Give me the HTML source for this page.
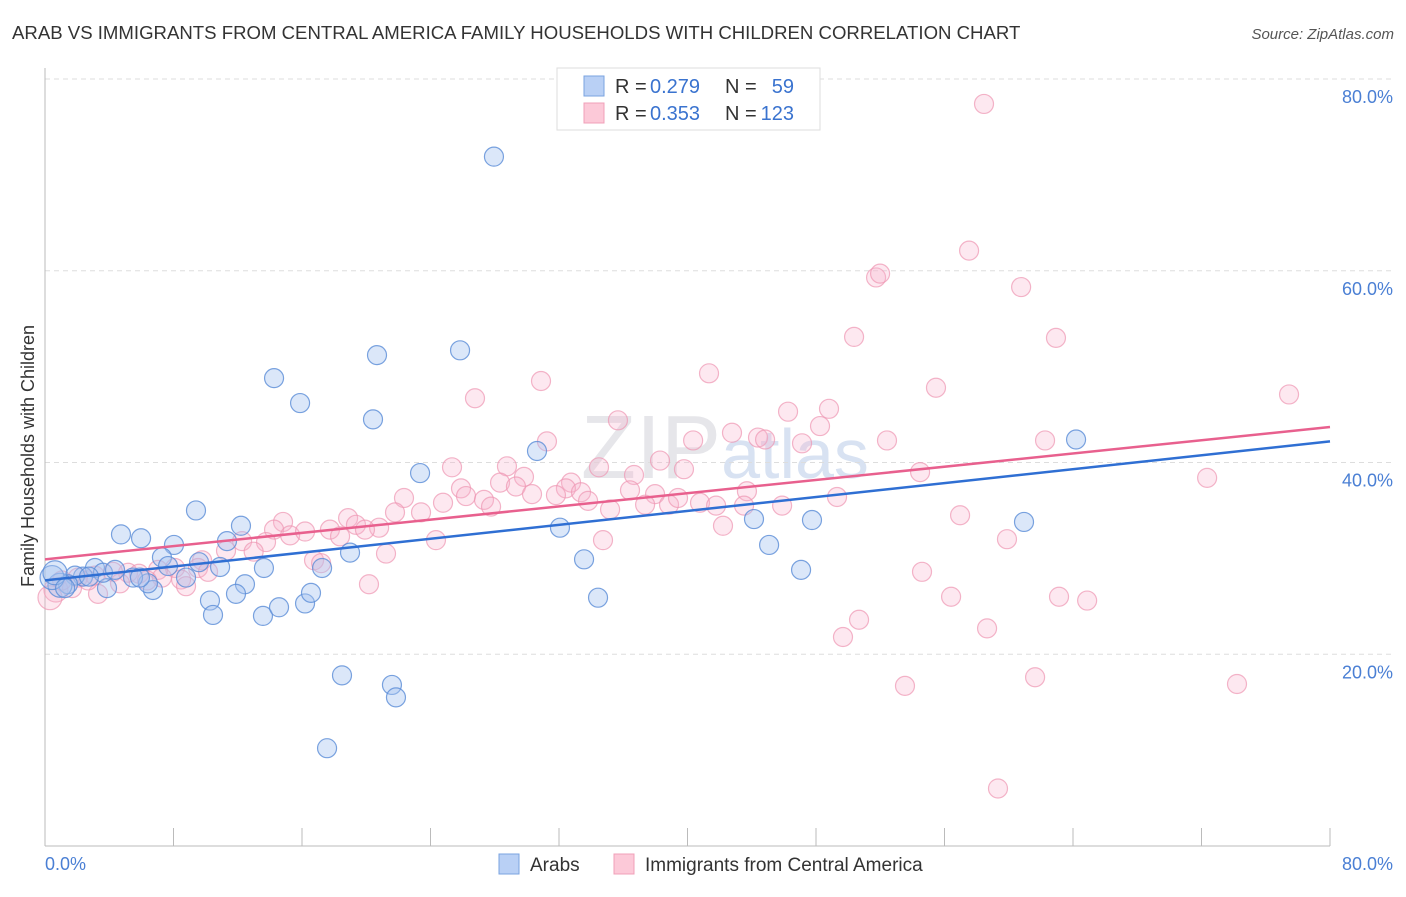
<!DOCTYPE html>
<html><head><meta charset="utf-8"><style>
body{margin:0;background:#fff;font-family:"Liberation Sans",sans-serif}
svg text{font-family:"Liberation Sans",sans-serif}
</style></head><body>
<svg id="c" width="1406" height="892" xmlns="http://www.w3.org/2000/svg">
<text x="12" y="39" font-size="18.6" fill="#333">ARAB VS IMMIGRANTS FROM CENTRAL AMERICA FAMILY HOUSEHOLDS WITH CHILDREN CORRELATION CHART</text>
<text x="1394" y="39" font-size="15" fill="#555" font-style="italic" text-anchor="end">Source: ZipAtlas.com</text>
<text x="725" y="478" font-size="90" fill="#e6e6ea" text-anchor="middle" font-family="Liberation Serif">ZIP<tspan fill="#d8e2f2" font-family="Liberation Sans" font-size="70">atlas</tspan></text>
<g id="grid"></g><g id="axes"></g><g id="pts"></g><g id="trend"></g>
<text transform="translate(34,456) rotate(-90)" font-size="18" fill="#333" text-anchor="middle">Family Households with Children</text>
<text x="45" y="870" font-size="18" fill="#4a7fd4">0.0%</text>
<text x="1393" y="870" font-size="18" fill="#4a7fd4" text-anchor="end">80.0%</text>
<g>
<rect x="557" y="68" width="263" height="62" fill="#fff" stroke="#ddd"/>
<rect x="584" y="76" width="20" height="20" fill="#b9d0f5" stroke="#7aa3e0"/>
<rect x="584" y="103" width="20" height="20" fill="#fcc9d8" stroke="#f0a0b8"/>
<text x="615" y="93" font-size="20" fill="#333">R =</text>
<text x="650" y="93" font-size="20" fill="#3a73cf">0.279</text>
<text x="725" y="93" font-size="20" fill="#333">N =</text>
<text x="794" y="93" font-size="20" fill="#3a73cf" text-anchor="end">59</text>
<text x="615" y="120" font-size="20" fill="#333">R =</text>
<text x="650" y="120" font-size="20" fill="#3a73cf">0.353</text>
<text x="725" y="120" font-size="20" fill="#333">N =</text>
<text x="794" y="120" font-size="20" fill="#3a73cf" text-anchor="end">123</text>
</g>
<g>
<rect x="499" y="854" width="20" height="20" fill="#b9d0f5" stroke="#7aa3e0"/>
<text x="530" y="871" font-size="19" fill="#333">Arabs</text>
<rect x="614" y="854" width="20" height="20" fill="#fcc9d8" stroke="#f0a0b8"/>
<text x="645" y="871" font-size="19" fill="#333">Immigrants from Central America</text>
</g>
</svg>
<script>
const yTicks=[20,40,60,80];
const yTickLabels=["20.0%","40.0%","60.0%","80.0%"];
const xTicks=[0,8,16,24,32,40,48,56,64,72,80];
const arabX=[27.95,14.26,15.88,20.67,25.84,20.42,30.63,23.35,64.19,60.95,47.75,44.14,45.08,47.07,32.06,33.56,34.43,4.73,5.98,9.40,8.03,7.28,12.20,11.33,18.99,17.25,13.63,10.90,9.59,7.66,8.78,12.45,11.89,10.27,10.46,13.57,14.57,16.19,16.56,18.49,21.60,21.85,17.56,6.72,6.41,5.48,3.86,3.11,3.61,2.37,1.87,1.43,0.93,0.44,0.62,1.25,2.74,4.36,5.91];
const arabY=[71.9,48.8,46.2,51.2,51.7,44.5,41.2,38.9,42.4,33.8,34.0,34.1,31.4,28.8,33.2,29.9,25.9,32.5,32.1,35.0,31.4,30.1,33.4,31.8,30.6,29.0,29.0,29.1,29.6,29.2,28.0,27.3,26.3,25.6,24.1,24.0,24.9,25.3,26.4,17.8,16.8,15.5,10.2,26.7,27.4,28.0,26.9,29.0,28.5,28.1,28.2,27.3,27.2,28.0,28.5,26.9,28.1,28.8,28.0];
const immX=[58.46,57.53,51.74,51.99,60.77,50.37,62.94,41.34,30.88,55.47,77.45,26.77,48.81,46.26,35.67,48.25,42.77,44.39,44.83,40.35,31.25,52.42,47.13,62.26,38.29,34.49,25.34,28.76,39.78,54.48,36.67,29.82,72.35,28.33,29.32,32.75,32.43,33.37,25.90,26.21,36.42,37.98,43.70,22.35,24.78,27.33,30.32,31.81,33.81,37.36,38.85,40.78,41.78,43.52,45.89,49.31,39.41,27.77,35.18,21.79,23.41,18.87,56.97,19.36,20.80,19.92,17.74,14.82,14.26,15.26,16.19,42.21,18.37,13.76,12.27,24.34,34.74,59.89,12.99,11.27,21.23,9.78,16.75,17.19,9.53,8.09,7.04,5.17,4.23,5.85,10.15,7.28,8.47,54.60,3.11,2.05,4.67,20.17,8.78,0.68,1.68,3.30,0.31,56.41,63.13,64.88,50.68,58.65,49.68,53.54,61.64,74.21,59.33,1.06,2.68,6.35];
const immY=[77.4,62.1,59.3,59.7,58.3,53.1,53.0,49.3,48.5,47.8,47.1,46.7,45.6,45.3,44.4,43.8,43.1,42.6,42.4,42.3,42.2,42.3,42.0,42.3,40.2,39.5,39.5,39.6,39.3,39.0,38.7,38.5,38.4,37.9,37.5,37.9,37.3,36.9,37.3,36.5,37.1,36.7,37.0,36.3,35.8,36.1,36.7,36.6,36.0,35.6,35.6,35.8,35.5,35.5,35.5,36.4,36.3,35.4,35.1,34.8,34.8,34.2,34.5,33.5,33.2,33.0,33.0,33.8,33.0,32.4,32.8,33.4,32.3,31.7,31.8,31.9,31.9,32.0,30.7,30.8,30.5,29.8,29.8,29.5,29.0,29.0,28.8,28.5,28.6,28.4,28.6,28.0,27.8,28.6,28.2,28.0,27.4,27.3,27.1,26.7,26.9,26.3,25.9,26.0,26.0,25.6,23.6,22.7,21.8,16.7,17.6,16.9,6.0,27.7,27.7,27.7];
const arabTrend=[27.7,42.2];
const immTrend=[29.9,43.7];
const NS="http://www.w3.org/2000/svg";
const X=v=>45+v/80*1285, Y=v=>846-v/80*767;
function mk(t,a,p){const e=document.createElementNS(NS,t);for(const k in a)e.setAttribute(k,a[k]);document.getElementById(p).appendChild(e);return e;}
yTicks.forEach((t,i)=>{
 const l=mk('line',{x1:45,x2:1393,y1:Y(t),y2:Y(t),stroke:'#ddd','stroke-dasharray':'5,4'},'grid');
 
 
 const tx=mk('text',{x:1393,y:Y(t)+24,'font-size':18,fill:'#4a7fd4','text-anchor':'end'},'grid');
 tx.textContent=yTickLabels[i];
 
 
});
const ax=mk('line',{x1:45,x2:45,y1:68,y2:846,stroke:'#bbb'},'axes');


const bx=mk('line',{x1:45,x2:1330,y1:846,y2:846,stroke:'#bbb'},'axes');


xTicks.forEach(t=>{
 const l=mk('line',{x1:X(t),x2:X(t),y1:828,y2:846,stroke:'#bbb'},'axes');
 
 
});
function pts(xs,ys,fill,stroke,name){
 xs.forEach((x,i)=>{
  const c=mk('circle',{cx:X(x),cy:Y(ys[i]),r:(x<1?12:9.5),fill:fill,stroke:stroke,'stroke-width':1.2},'pts');
  
  
 });
}
pts(immX,immY,'rgba(248,180,205,0.3)','rgba(238,150,178,0.7)','immigrant-point');
pts(arabX,arabY,'rgba(165,195,240,0.4)','rgba(90,140,215,0.8)','arab-point');
const t1=mk('line',{x1:X(0),x2:X(80),y1:Y(arabTrend[0]),y2:Y(arabTrend[1]),stroke:'#2f6fd3','stroke-width':2.5},'trend');


const t2=mk('line',{x1:X(0),x2:X(80),y1:Y(immTrend[0]),y2:Y(immTrend[1]),stroke:'#e8608e','stroke-width':2.5},'trend');


</script>
</body></html>
